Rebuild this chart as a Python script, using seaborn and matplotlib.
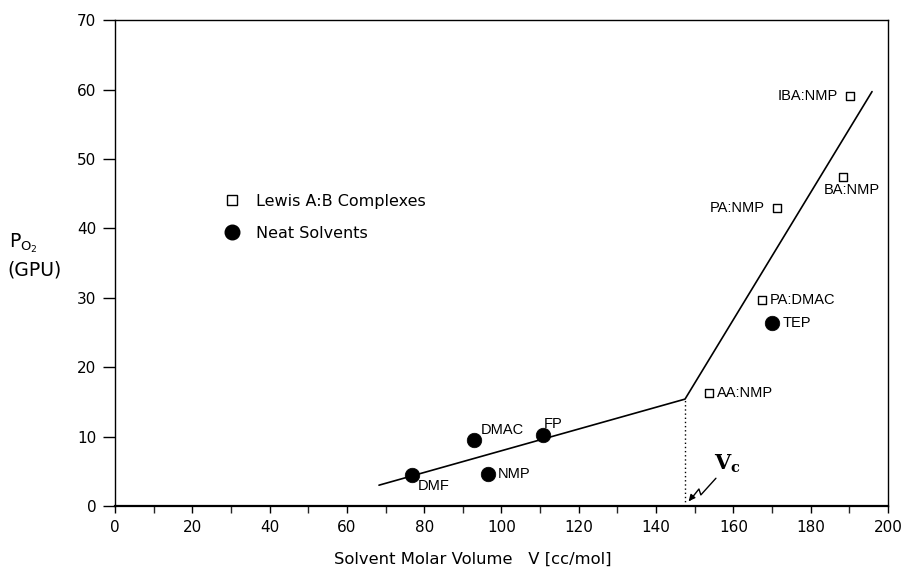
import matplotlib
matplotlib.use("Agg")
import matplotlib.pyplot as plt
import seaborn as sns
import pandas as pd
from matplotlib.lines import Line2D

# ---- data ----
complex_names = ["IBA:NMP", "BA:NMP", "PA:NMP", "PA:DMAC", "AA:NMP"]
complex_v = [190.2, 188.4, 171.3, 167.4, 153.7]
complex_p = [59.1, 47.4, 42.9, 29.7, 16.3]

neat_names = ["DMF", "DMAC", "FP", "NMP", "TEP"]
neat_v = [76.8, 92.9, 110.7, 96.5, 170.0]
neat_p = [4.5, 9.5, 10.2, 4.6, 26.4]

fit_v = [68.3, 147.5, 195.9]
fit_p = [3.0, 15.4, 59.7]
vc = 147.5

x_ticks = [0, 20, 40, 60, 80, 100, 120, 140, 160, 180, 200]
y_ticks = [0, 10, 20, 30, 40, 50, 60, 70]

sns.set_theme(style="ticks")
plt.rcParams["font.family"] = ["DejaVu Sans"]
plt.rcParams["text.color"] = "black"
plt.rcParams["axes.labelcolor"] = "black"

fig = plt.figure(figsize=(9.06, 5.69), dpi=100)
ax = fig.add_axes([0.127, 0.1107, 0.853, 0.854])

df_c = pd.DataFrame({"V": complex_v, "P": complex_p, "name": complex_names})
df_n = pd.DataFrame({"V": neat_v, "P": neat_p, "name": neat_names})
df_fit = pd.DataFrame({"V": fit_v, "P": fit_p})

sns.lineplot(data=df_fit, x="V", y="P", ax=ax, color="black", lw=1.2, sort=False)
ax.plot([vc, vc], [0, fit_p[1]], color="black", lw=1.0, ls=(0, (1, 2)))

sns.scatterplot(data=df_c, x="V", y="P", ax=ax, marker="s", s=36,
                facecolor="white", edgecolor="black", linewidth=1.0, zorder=3)
sns.scatterplot(data=df_n, x="V", y="P", ax=ax, marker="o", s=110,
                color="black", edgecolor="black", linewidth=0.5, zorder=3)

lab_font = dict(family="Liberation Sans", fontsize=10.5, color="black")
offsets = {
    "IBA:NMP": ((-9, 0), "right", "center"),
    "BA:NMP": ((6, -4), "center", "top"),
    "PA:NMP": ((-9, 0), "right", "center"),
    "PA:DMAC": ((6, 0), "left", "center"),
    "AA:NMP": ((6, 0), "left", "center"),
    "DMF": ((4, -8), "left", "center"),
    "DMAC": ((5, 7), "left", "center"),
    "FP": ((1, 8), "left", "center"),
    "NMP": ((7, 0), "left", "center"),
    "TEP": ((8, 0), "left", "center"),
}
for names, vs, ps in [(complex_names, complex_v, complex_p), (neat_names, neat_v, neat_p)]:
    for n, v, p in zip(names, vs, ps):
        (dx, dy), ha, va = offsets[n]
        ax.annotate(n, (v, p), xytext=(dx, dy), textcoords="offset points",
                    ha=ha, va=va, **lab_font)

# Vc annotation with zigzag arrow
ax.plot([155.5, 151.6, 151.1, 148.9], [4.0, 1.6, 2.45, 0.9], color="black", lw=1.0)
ax.annotate("", xy=(148.0, 0.4), xytext=(149.2, 1.2),
            arrowprops=dict(arrowstyle="-|>", color="black", lw=1.0, mutation_scale=9))
ax.text(155.0, 4.5, r"$\mathbf{V_c}$", fontsize=15, ha="left", va="bottom",
        math_fontfamily="dejavuserif")

ax.set_xlim(0, 200)
ax.set_ylim(0, 70)
ax.set_xticks(x_ticks)
ax.set_xticks([10, 30, 50, 70, 90, 110, 130, 150, 170, 190], minor=True)
ax.set_yticks(y_ticks)
ax.tick_params(axis="both", which="major", direction="out", width=1.0,
               labelsize=11, colors="black", pad=5)
ax.tick_params(axis="y", which="major", length=8.5)
ax.tick_params(axis="x", which="both", length=5, width=1.0)
for s in ax.spines.values():
    s.set_visible(True)
    s.set_color("black")
    s.set_linewidth(1.0)
ax.spines["bottom"].set_linewidth(1.6)

ax.set_xlabel("Solvent Molar Volume   V [cc/mol]", fontsize=11.8, color="black")
ax.xaxis.set_label_coords(0.463, -0.095)
ax.set_ylabel("")
fig.text(0.010, 0.572, r"P$_{\mathregular{O_2}}$", fontsize=13.5, ha="left", va="center")
fig.text(0.008, 0.526, "(GPU)", fontsize=13.5, ha="left", va="center")

handles = [
    Line2D([], [], marker="s", ls="", markersize=6.5, markerfacecolor="white",
           markeredgecolor="black", markeredgewidth=1.0, label="Lewis A:B Complexes"),
    Line2D([], [], marker="o", ls="", markersize=10.5, markerfacecolor="black",
           markeredgecolor="black", label="Neat Solvents"),
]
leg = ax.legend(handles=handles, loc="upper left", bbox_to_anchor=(0.112, 0.672),
                frameon=False, fontsize=11.5, handletextpad=0.5, labelspacing=1.05)
for t in leg.get_texts():
    t.set_color("black")

fig.savefig("out.png", dpi=100, facecolor="white")
